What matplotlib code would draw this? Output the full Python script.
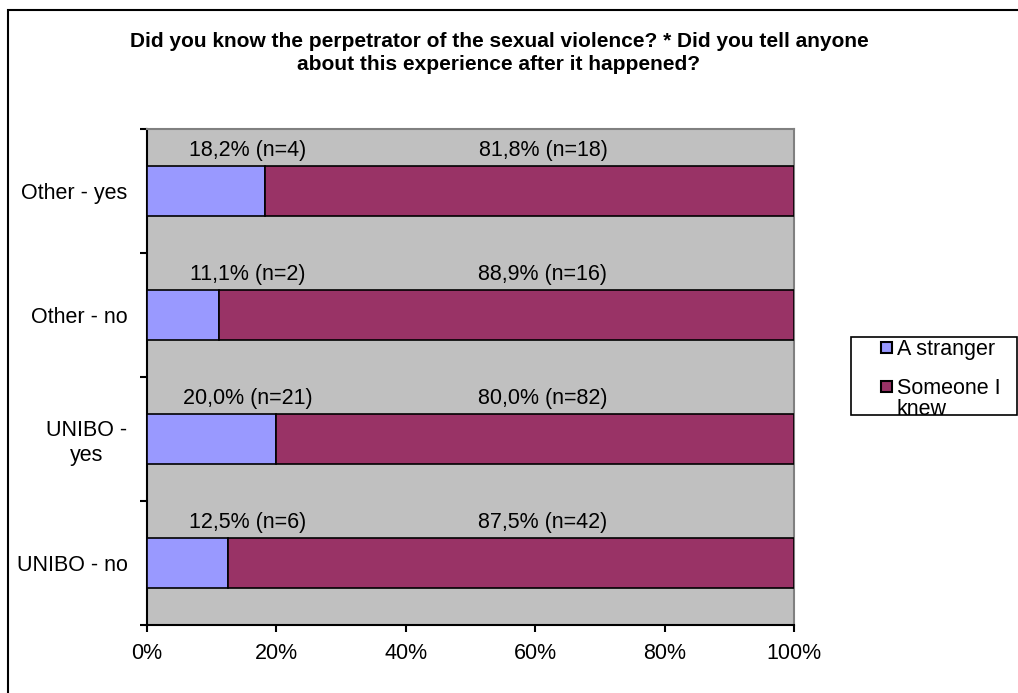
import matplotlib.pyplot as plt
from matplotlib.patches import Rectangle

plt.rcParams['font.family'] = ['Liberation Sans', 'DejaVu Sans']

# categories from bottom to top
grupos = ['UNIBO - no', 'UNIBO -\nyes', 'Other - no', 'Other - yes']
extrano = [12.5, 20.0, 11.1, 18.2]
conocido = [87.5, 80.0, 88.9, 81.8]
n_extrano = [6, 21, 2, 4]
n_conocido = [42, 82, 16, 18]
ticks_x = [0, 20, 40, 60, 80, 100]

azul = '#9999FF'
granate = '#993366'
gris = '#C0C0C0'
fs = 15.5

fig = plt.figure(figsize=(10.18, 6.93), dpi=100)
ax = fig.add_axes([147/1018, 1-625/693, 647/1018, 496/693])
ax.set_facecolor(gris)

pos = list(range(len(grupos)))
ax.barh(pos, extrano, height=0.4, color=azul, edgecolor='black', linewidth=1.2, zorder=3)
ax.barh(pos, conocido, left=extrano, height=0.4, color=granate, edgecolor='black', linewidth=1.2, zorder=3)

def fmt(v):
    return ('%.1f' % v).replace('.', ',')

for i in pos:
    ax.text(15.6, i + 0.33, '%s%% (n=%d)' % (fmt(extrano[i]), n_extrano[i]),
            ha='center', va='center', fontsize=fs)
    ax.text(61.2, i + 0.33, '%s%% (n=%d)' % (fmt(conocido[i]), n_conocido[i]),
            ha='center', va='center', fontsize=fs)

ax.set_xlim(0, 100)
ax.set_ylim(-0.5, len(grupos) - 0.5)
ax.set_xticks(ticks_x)
ax.set_xticklabels(['%d%%' % t for t in ticks_x], fontsize=fs)
ax.set_yticks([p - 0.5 for p in pos] + [len(grupos) - 0.5])
ax.set_yticklabels([])
ax.set_yticks(pos, minor=True)
ax.set_yticklabels(grupos, minor=True, fontsize=fs, multialignment='center')
ax.tick_params(axis='y', which='minor', length=0, pad=14)
ax.tick_params(axis='y', which='major', length=5, width=1.5, direction='out')
ax.tick_params(axis='x', length=5, width=1.5, direction='out', pad=8)

for s in ['top', 'right']:
    ax.spines[s].set_color('#808080')
    ax.spines[s].set_linewidth(1.5)
for s in ['left', 'bottom']:
    ax.spines[s].set_color('black')
    ax.spines[s].set_linewidth(1.5)

fig.text(499/1018, 1-53/693,
         'Did you know the perpetrator of the sexual violence? * Did you tell anyone\nabout this experience after it happened?',
         ha='center', va='center', fontsize=15, fontweight='bold', linespacing=1.25)

# outer chart border
fig.add_artist(Rectangle((8/1018, -0.1), 1.2, 1.1 - 10/693, transform=fig.transFigure,
                         fill=False, edgecolor='black', linewidth=1.5))

# legend box drawn like the original
fig.add_artist(Rectangle((851/1018, 1-415/693), 166/1018, 78/693, transform=fig.transFigure,
                         facecolor='white', edgecolor='black', linewidth=1.2))
fig.add_artist(Rectangle((881/1018, 1-353/693), 11/1018, 11/693, transform=fig.transFigure,
                         facecolor=azul, edgecolor='black', linewidth=1.5))
fig.add_artist(Rectangle((881/1018, 1-392/693), 11/1018, 11/693, transform=fig.transFigure,
                         facecolor=granate, edgecolor='black', linewidth=1.5))
fig.text(897/1018, 1-349/693, 'A stranger', ha='left', va='center', fontsize=fs)
fig.text(897/1018, 1-399/693, 'Someone I\nknew', ha='left', va='center', fontsize=fs, linespacing=0.95)

fig.savefig('out.png', dpi=100)
